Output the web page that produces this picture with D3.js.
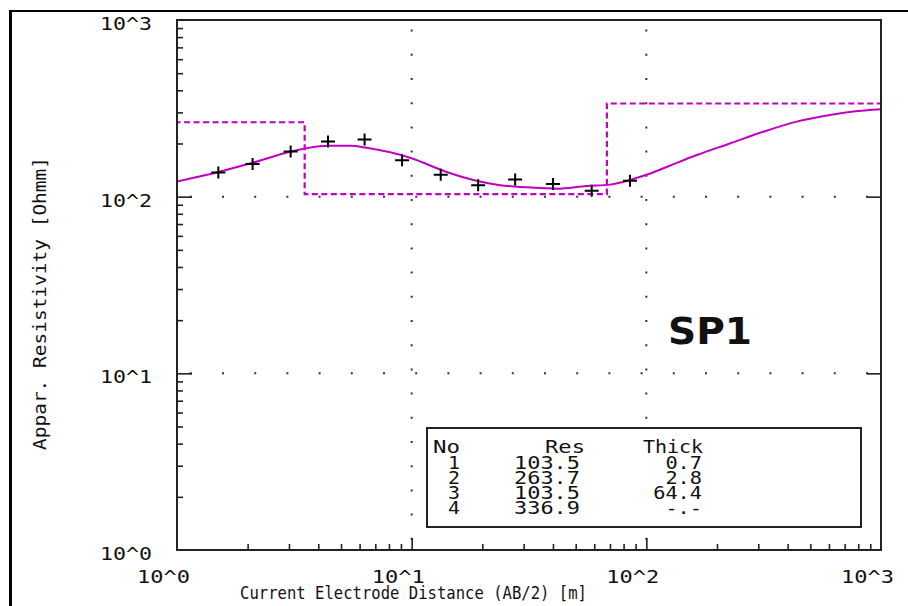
<!DOCTYPE html>
<html>
<head>
<meta charset="utf-8">
<script src="https://cdn.jsdelivr.net/npm/d3@7"></script>
<style>
  html, body { margin: 0; padding: 0; background: #fff; }
  svg { display: block; }
</style>
</head>
<body>
<script>
// Sounding SP1: measured apparent resistivity vs AB/2, fitted model curve and layer model
const abHalf  = [1.5, 2.1, 3.05, 4.4, 6.3, 9.1, 13.3, 19.2, 27.6, 40, 58.5, 85.2];
const rhoApp  = [137, 153, 180, 205, 211, 161, 133, 116, 125, 118, 108, 123];

// model response curve
const modelAB  = [1.0, 1.5, 2.11, 3.06, 3.57, 4.49, 5.46, 6.43, 9.84, 14.1, 18.9, 23.8, 30.9, 41.5, 55.7, 70.0, 100, 139, 164, 227, 315, 437, 606, 762, 1000];
const modelRho = [122, 138, 156, 180, 188, 194, 194, 189, 166, 138, 123, 116, 113, 111, 115, 117, 133, 158, 172, 200, 233, 266, 290, 303, 312];

// layer table
const layerNo    = ["1", "2", "3", "4"];
const layerRes   = [103.5, 263.7, 103.5, 336.9];
const layerThick = [0.7, 2.8, 64.4];

const decadeTicks  = [1, 10, 100, 1000];
const decadeLabels = ["10^0", "10^1", "10^2", "10^3"];
const xTitle = "Current Electrode Distance (AB/2) [m]";
const yTitle = "Appar. Resistivity [Ohmm]";
const siteName = "SP1";

const W = 908, H = 606;
const M = { left: 177, right: 881, top: 20, bottom: 550 };
const ink = "#222";
const magenta = "#c000c0";
const mono = "'DejaVu Sans Mono', monospace";

const x = d3.scaleLog().domain([1, 1000]).range([M.left, M.right]);
const y = d3.scaleLog().domain([1, 1000]).range([M.bottom, M.top]);

const svg = d3.select("body").append("svg").attr("width", W).attr("height", H);
svg.append("rect").attr("width", W).attr("height", H).attr("fill", "#fff");

// outer frame (left and top edges)
svg.append("line").attr("x1", 10.5).attr("x2", 10.5).attr("y1", 10).attr("y2", H)
  .attr("stroke", "#000").attr("stroke-width", 3);
svg.append("line").attr("x1", 9).attr("x2", W).attr("y1", 11).attr("y2", 11)
  .attr("stroke", "#000").attr("stroke-width", 2);

svg.append("clipPath").attr("id", "plot-clip").append("rect")
  .attr("x", M.left).attr("y", M.top).attr("width", M.right - M.left).attr("height", M.bottom - M.top);

// dotted decade grid
const gridDecades = [10, 100];
svg.append("g").selectAll("line").data(gridDecades).join("line")
  .attr("x1", x(1)).attr("x2", x(1000)).attr("y1", d => y(d)).attr("y2", d => y(d))
  .attr("stroke", "#333").attr("stroke-width", 2)
  .attr("stroke-dasharray", "2 30.2").attr("stroke-dashoffset", -12.8);
svg.append("g").selectAll("line").data(gridDecades).join("line")
  .attr("x1", d => x(d)).attr("x2", d => x(d)).attr("y1", y(1000)).attr("y2", y(1))
  .attr("stroke", "#333").attr("stroke-width", 2)
  .attr("stroke-dasharray", "2 22.2").attr("stroke-dashoffset", -9.6);

// layer model as step line (depth vs resistivity)
const depths = [0.1, ...Array.from(d3.cumsum(layerThick)), 10000];
const stepPts = layerRes.map((r, i) => [depths[i], r]);
stepPts.push([depths[depths.length - 1], layerRes[layerRes.length - 1]]);
svg.append("path")
  .attr("clip-path", "url(#plot-clip)")
  .attr("d", d3.line().x(d => x(d[0])).y(d => y(d[1])).curve(d3.curveStepAfter)(stepPts))
  .attr("fill", "none").attr("stroke", magenta).attr("stroke-width", 2.2)
  .attr("stroke-dasharray", "6 3.5");

// model response
svg.append("path")
  .attr("clip-path", "url(#plot-clip)")
  .attr("d", d3.line().x((d, i) => x(modelAB[i])).y(d => y(d)).curve(d3.curveMonotoneX)(modelRho))
  .attr("fill", "none").attr("stroke", magenta).attr("stroke-width", 2);

// measured points as crosses
svg.append("g").selectAll("path").data(abHalf).join("path")
  .attr("d", (d, i) => {
    const px = x(d), py = y(rhoApp[i]);
    return `M${px - 7},${py}H${px + 7}M${px},${py - 6}V${py + 6}`;
  })
  .attr("stroke", "#000").attr("stroke-width", 2).attr("fill", "none");

// axes ticks
const minorTicks = [1, 10, 100].flatMap(d => d3.range(2, 10).map(k => d * k));
const majorTicks = [10, 100];
function styleAxis(g) {
  g.select(".domain").remove();
  g.selectAll(".tick line").attr("stroke", ink).attr("stroke-width", 1.6);
  g.selectAll(".tick text").remove();
}
svg.append("g").attr("transform", `translate(0,${M.bottom})`)
  .call(d3.axisBottom(x).tickValues(minorTicks).tickSize(-6)).call(styleAxis);
svg.append("g").attr("transform", `translate(0,${M.bottom})`)
  .call(d3.axisBottom(x).tickValues(majorTicks).tickSize(-12)).call(styleAxis);
svg.append("g").attr("transform", `translate(${M.left},0)`)
  .call(d3.axisLeft(y).tickValues(minorTicks).tickSize(-6)).call(styleAxis);
svg.append("g").attr("transform", `translate(${M.left},0)`)
  .call(d3.axisLeft(y).tickValues(majorTicks).tickSize(-15)).call(styleAxis);
svg.append("g").attr("transform", `translate(${M.right},0)`)
  .call(d3.axisRight(y).tickValues(majorTicks).tickSize(-14)).call(styleAxis);

// plot frame
svg.append("rect").attr("x", M.left).attr("y", M.top)
  .attr("width", M.right - M.left).attr("height", M.bottom - M.top)
  .attr("fill", "none").attr("stroke", ink).attr("stroke-width", 2);

// tick labels
svg.append("g").selectAll("text").data(decadeTicks).join("text")
  .attr("x", 100).attr("y", d => y(d) + 10)
  .attr("textLength", 52).attr("lengthAdjust", "spacingAndGlyphs")
  .attr("font-family", mono).attr("font-size", 17.5).attr("fill", "#111")
  .text((d, i) => decadeLabels[i]);
svg.append("g").selectAll("text").data(decadeTicks).join("text")
  .attr("x", d => x(d) - 40).attr("y", 583)
  .attr("textLength", 53).attr("lengthAdjust", "spacingAndGlyphs")
  .attr("font-family", mono).attr("font-size", 18.5).attr("fill", "#111")
  .text((d, i) => decadeLabels[i]);

// axis titles
svg.append("text").attr("x", 240).attr("y", 599)
  .attr("textLength", 347).attr("lengthAdjust", "spacingAndGlyphs")
  .attr("font-family", mono).attr("font-size", 17.5).attr("fill", "#111")
  .text(xTitle);
svg.append("text").attr("transform", "translate(46,450) rotate(-90)")
  .attr("textLength", 293).attr("lengthAdjust", "spacingAndGlyphs")
  .attr("font-family", mono).attr("font-size", 18).attr("fill", "#111")
  .text(yTitle);

// site name
svg.append("text").attr("x", 668).attr("y", 344)
  .attr("textLength", 84).attr("lengthAdjust", "spacingAndGlyphs")
  .attr("font-family", "'DejaVu Sans', sans-serif").attr("font-weight", 700)
  .attr("font-size", 37).attr("fill", "#111")
  .text(siteName);

// layer table
const tbl = svg.append("g");
tbl.append("rect").attr("x", 427).attr("y", 428).attr("width", 434).attr("height", 99)
  .attr("fill", "#fff").attr("stroke", ink).attr("stroke-width", 2);
const cell = (tx, ty, s, anchor, len) => tbl.append("text")
  .attr("x", tx).attr("y", ty).attr("text-anchor", anchor)
  .attr("textLength", len).attr("lengthAdjust", "spacingAndGlyphs")
  .attr("font-family", mono).attr("font-size", 18).attr("fill", "#111").text(s);
cell(433, 453, "No", "start", 27);
cell(585, 453, "Res", "end", 40);
cell(703, 453, "Thick", "end", 60);
const rowY = [469, 484, 499, 514];
layerNo.forEach((n, i) => {
  cell(460, rowY[i], n, "end", 12);
  cell(580, rowY[i], layerRes[i].toFixed(1), "end", 66);
  const t = i < layerThick.length ? layerThick[i].toFixed(1) : "-.-";
  cell(702, rowY[i], t, "end", t.length * 12.2);
});
</script>
</body>
</html>
